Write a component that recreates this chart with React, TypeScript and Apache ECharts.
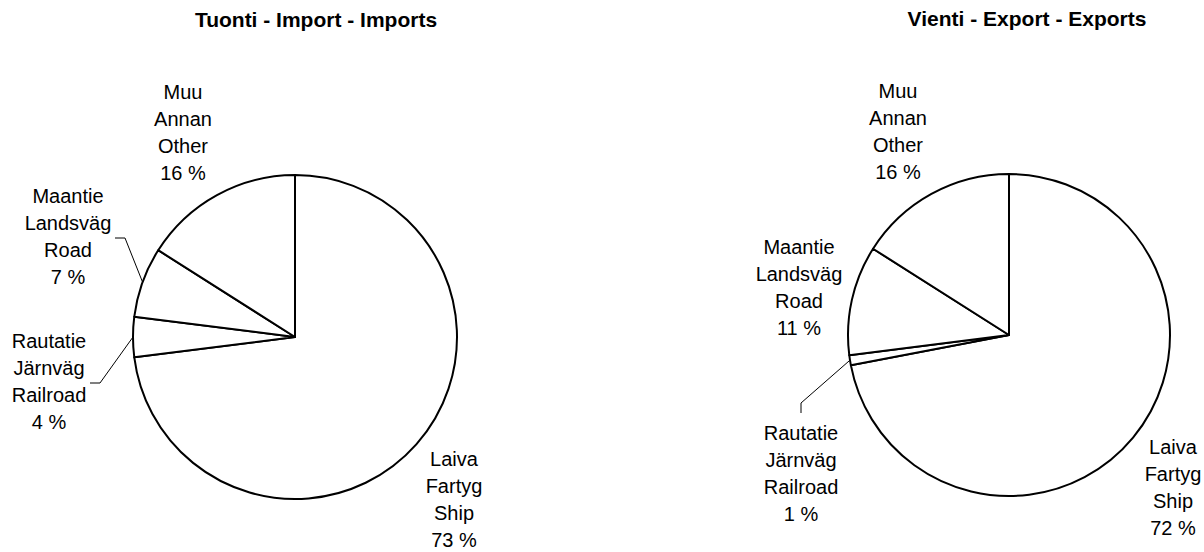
import React, { useEffect, useRef } from "react";
import * as echarts from "echarts";

// ---- data ----
const titles = ["Tuonti - Import - Imports", "Vienti - Export - Exports"];
const categoriesFi = ["Laiva", "Rautatie", "Maantie", "Muu"];
const categoriesSv = ["Fartyg", "Järnväg", "Landsväg", "Annan"];
const categoriesEn = ["Ship", "Railroad", "Road", "Other"];
const importShares = [73, 4, 7, 16];
const exportShares = [72, 1, 11, 16];

// ---- layout (positions / styles) ----
const FONT = '"Liberation Sans", Arial, Helvetica, sans-serif';
const W = 1204;
const H = 552;
const TITLE_POS = [
  [316, 9],
  [1027, 8],
];
const PIE_CENTERS = [
  [295, 337],
  [1009, 335],
];
const PIE_RADII = [162, 161];
// label block centres per pie, per slice
const LABEL_POS = [
  [
    [454, 499],
    [49, 381],
    [68, 236],
    [183, 132],
  ],
  [
    [1173, 487],
    [801, 473],
    [799, 287],
    [898, 131],
  ],
];
// leader line: [elbow, end] (from pie edge -> elbow -> end at label)
const LEADERS: (number[][] | null)[][] = [
  [null, [[100, 383], [90, 383]], [[125, 238], [115, 238]], null],
  [null, [[801, 403], [801, 413]], null, null],
];

function makeSeries(values: number[], s: number) {
  return {
    type: "pie",
    center: PIE_CENTERS[s],
    radius: PIE_RADII[s],
    startAngle: 90,
    clockwise: true,
    avoidLabelOverlap: false,
    silent: true,
    emphasis: { disabled: true },
    itemStyle: { color: "#ffffff", borderColor: "#000000", borderWidth: 2 },
    label: {
      show: true,
      position: "outside",
      formatter: (p: any) => `${p.name}\n${p.value} %`,
      color: "#000000",
      fontSize: 20,
      lineHeight: 27,
      fontFamily: FONT,
      align: "center",
      overflow: "none",
    },
    labelLine: {
      show: false,
      length: 10,
      length2: 10,
      smooth: false,
      lineStyle: { color: "#000000", width: 1 },
    },
    labelLayout: (params: any) => {
      const i = params.dataIndex;
      const pos = LABEL_POS[s][i];
      const out: any = {
        x: pos[0],
        y: pos[1],
        align: "center",
        verticalAlign: "middle",
        hideOverlap: false,
        moveOverlap: false,
      };
      const lead = LEADERS[s][i];
      if (lead && params.labelLinePoints) {
        out.labelLinePoints = [params.labelLinePoints[0], lead[0], lead[1]];
      }
      return out;
    },
    data: values.map((v, i) => ({
      name: `${categoriesFi[i]}\n${categoriesSv[i]}\n${categoriesEn[i]}`,
      value: v,
      labelLine: { show: LEADERS[s][i] != null },
    })),
  };
}

export default function App() {
  const ref = useRef<HTMLDivElement>(null);
  useEffect(() => {
    document.body.style.margin = "0";
    if (!ref.current) return;
    const chart = echarts.init(ref.current, undefined, { renderer: "svg" });
    chart.setOption({
      animation: false,
      backgroundColor: "#ffffff",
      title: titles.map((t, k) => ({
        text: t,
        left: TITLE_POS[k][0],
        top: TITLE_POS[k][1],
        textAlign: "center",
        padding: 0,
        textStyle: {
          fontSize: 21,
          fontWeight: "bold",
          color: "#000000",
          fontFamily: FONT,
        },
      })),
      series: [makeSeries(importShares, 0), makeSeries(exportShares, 1)],
    });
    return () => chart.dispose();
  }, []);
  return <div ref={ref} style={{ width: W, height: H }} />;
}
